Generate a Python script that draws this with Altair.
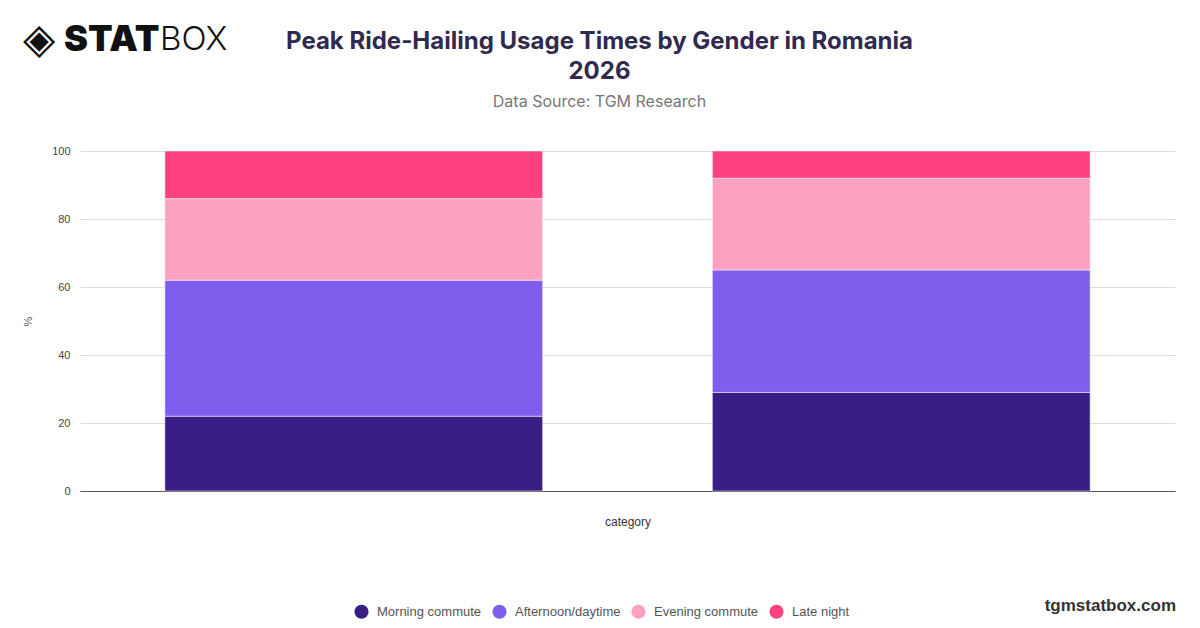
import altair as alt
import pandas as pd

categories = ["Male", "Female"]
series = ["Morning commute", "Afternoon/daytime", "Evening commute", "Late night"]
morning = [22, 29]
afternoon = [40, 36]
evening = [24, 27]
late_night = [14, 8]
colors = ["#391e86", "#7e5eed", "#fba1c2", "#ff4081"]

rows = []
for i, cat in enumerate(categories):
    for j, (s, vals) in enumerate(zip(series, [morning, afternoon, evening, late_night])):
        rows.append({"category": cat, "series": s, "value": vals[i], "order": j})
df = pd.DataFrame(rows)

base_font = "Liberation Sans"

bars = alt.Chart(df).mark_bar(stroke="white", strokeWidth=0.5).encode(
    x=alt.X("category:N", sort=categories, title="category",
            scale=alt.Scale(paddingInner=0.31, paddingOuter=0.155),
            axis=alt.Axis(labels=False, ticks=False, domain=True, domainColor="#555",
                          titleFont=base_font, titleFontSize=12, titleFontWeight="normal",
                          titleColor="#333", titlePadding=25)),
    y=alt.Y("value:Q", stack="zero", title="%",
            scale=alt.Scale(domain=[0, 100]),
            axis=alt.Axis(values=[0, 20, 40, 60, 80, 100], ticks=False, domain=False,
                          gridColor="#dddddd", labelFont=base_font, labelFontSize=11,
                          labelColor="#444", labelPadding=10, titleFont=base_font,
                          titleFontSize=11, titleFontWeight="normal", titleColor="#555",
                          titlePadding=18)),
    color=alt.Color("series:N", sort=series,
                    scale=alt.Scale(domain=series, range=colors),
                    legend=alt.Legend(orient="none", legendX=274, legendY=453,
                                      direction="horizontal", title=None,
                                      symbolType="circle", symbolSize=200,
                                      symbolStrokeWidth=0, labelFont=base_font,
                                      labelFontSize=13, labelColor="#555",
                                      columnPadding=10, labelOffset=8, padding=0)),
    order=alt.Order("order:Q", sort="ascending"),
)

one = pd.DataFrame({"k": [0]})
logo_icon = alt.Chart(one).mark_text(text="◈", font="DejaVu Sans", fontSize=42,
                                     align="left", baseline="middle", color="#111").encode(
    x=alt.value(-57), y=alt.value(-111))
logo_stat = alt.Chart(one).mark_text(text="STAT", font="Inter", fontSize=36, fontWeight=900,
                                     align="left", baseline="middle", color="#111").encode(
    x=alt.value(-16), y=alt.value(-111))
logo_box = alt.Chart(one).mark_text(text="BOX", font="Inter", fontSize=33, fontWeight=300,
                                    align="left", baseline="middle", color="#111").encode(
    x=alt.value(80), y=alt.value(-111))
watermark = alt.Chart(one).mark_text(text="tgmstatbox.com", font=base_font, fontSize=17,
                                     fontWeight="bold", align="right", baseline="middle",
                                     color="#333").encode(
    x=alt.value(1096), y=alt.value(455))

chart = alt.layer(bars, logo_icon, logo_stat, logo_box, watermark).properties(
    width=1095,
    height=340,
    autosize=alt.AutoSizeParams(type="none"),
    padding={"left": 72, "top": 143, "right": 17, "bottom": 129},
    title=alt.TitleParams(
        text=["Peak Ride-Hailing Usage Times by Gender in Romania", "2026"],
        subtitle="Data Source: TGM Research",
        font="Inter", fontSize=24, fontWeight="bold", color="#2f2a4e",
        lineHeight=30, subtitleFont="Inter", subtitleFontSize=16,
        subtitleColor="#777", subtitlePadding=10, anchor="middle", offset=-91, dx=-28,
    ),
).configure(background="white").configure_view(stroke=None)

chart.save("out.html", embed_options={"renderer": "svg", "actions": False})
